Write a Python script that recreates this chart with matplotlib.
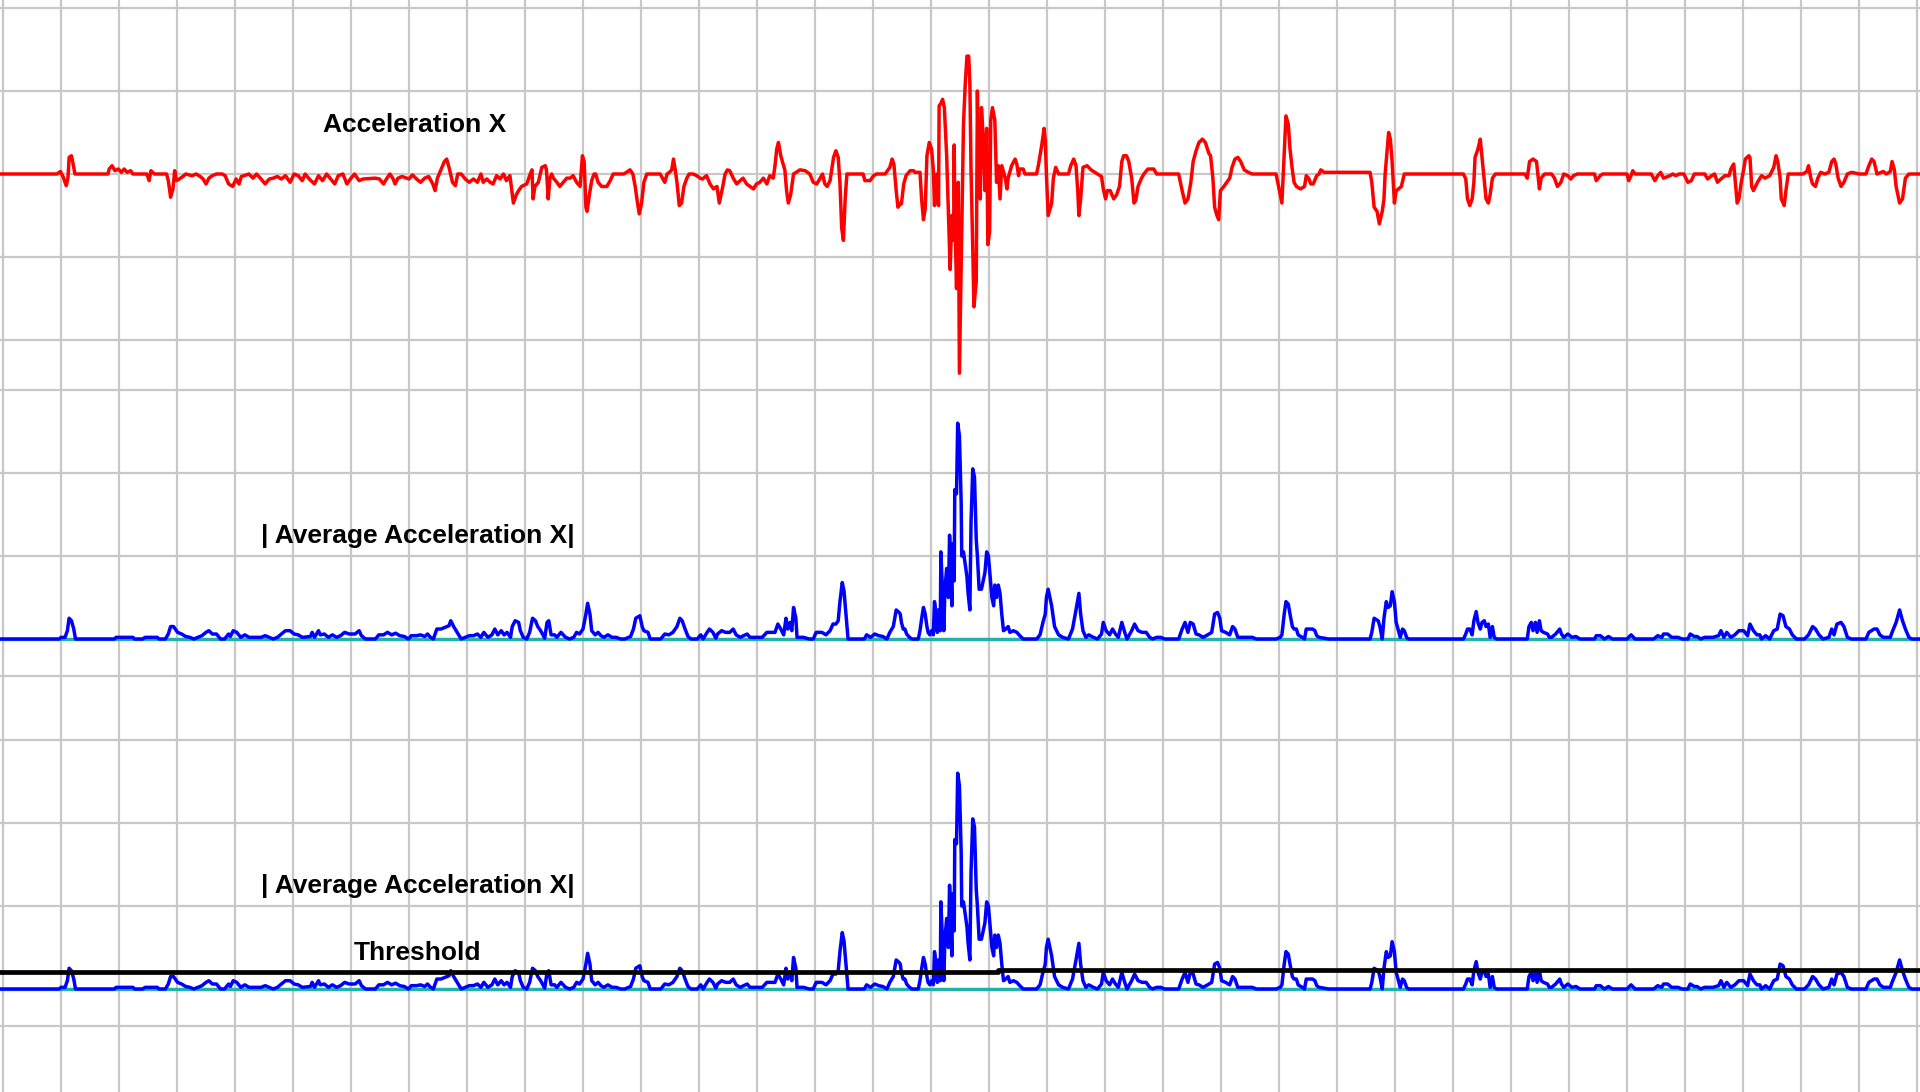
import numpy as np
import matplotlib
matplotlib.use('Agg')
import matplotlib.pyplot as plt

# Raw acceleration X, (time, value); grid step = 1 unit on both axes
acc_x_samples = [
    (-0.06, 0), (0.93, 0), (0.99, 0.03), (1.04, -0.04), (1.09, -0.14), (1.12, -0.05), (1.14, 0.2), (1.18, 0.22), (1.22, 0.08), (1.24, 0),
    (1.81, 0), (1.83, 0.06), (1.88, 0.1), (1.93, 0.04), (1.99, 0.06), (2.04, 0.02), (2.09, 0.06), (2.14, 0.02), (2.20, 0.04), (2.24, 0),
    (2.48, 0), (2.52, -0.08), (2.55, 0.04), (2.61, 0), (2.82, 0), (2.85, -0.08), (2.89, -0.28), (2.93, -0.18), (2.96, 0.04), (2.99, -0.08),
    (3.04, -0.06), (3.10, -0.03), (3.15, 0), (3.26, -0.02), (3.33, 0), (3.40, -0.03), (3.45, -0.06), (3.50, -0.12), (3.55, -0.05), (3.61, -0.02),
    (3.68, 0), (3.78, 0), (3.83, -0.02), (3.89, -0.12), (3.96, -0.15), (4.02, -0.06), (4.07, -0.12), (4.11, -0.03), (4.24, 0), (4.31, -0.05),
    (4.37, 0), (4.45, -0.06), (4.52, -0.12), (4.59, -0.06), (4.66, -0.05), (4.73, -0.03), (4.80, -0.06), (4.87, -0.02), (4.95, -0.1), (5.02, 0),
    (5.09, -0.02), (5.16, -0.08), (5.21, 0), (5.28, -0.06), (5.37, -0.12), (5.44, -0.02), (5.51, -0.08), (5.58, 0), (5.65, -0.06), (5.72, -0.12),
    (5.78, -0.02), (5.86, 0), (5.93, -0.12), (6.00, -0.05), (6.06, 0), (6.14, -0.08), (6.21, -0.06), (6.42, -0.05), (6.49, -0.06), (6.56, -0.12),
    (6.62, -0.05), (6.67, 0), (6.72, -0.05), (6.76, -0.12), (6.81, -0.05), (6.88, -0.03), (7.00, -0.06), (7.06, -0.01), (7.13, -0.06), (7.20, -0.1),
    (7.27, -0.05), (7.34, -0.03), (7.41, -0.12), (7.45, -0.2), (7.49, -0.05), (7.55, 0.05), (7.61, 0.15), (7.65, 0.18), (7.69, 0.08), (7.75, -0.1),
    (7.80, -0.14), (7.84, 0), (7.90, 0), (7.97, -0.06), (8.04, -0.1), (8.11, -0.06), (8.18, -0.1), (8.24, 0),
    (8.28, -0.1), (8.34, -0.06), (8.40, -0.1), (8.45, -0.12), (8.51, -0.02), (8.57, -0.06), (8.63, 0), (8.68, -0.08), (8.74, -0.02), (8.80, -0.35),
    (8.85, -0.25), (8.89, -0.2), (8.94, -0.15), (9.03, -0.12), (9.09, 0), (9.12, 0.05), (9.14, -0.3), (9.17, -0.15), (9.23, -0.1), (9.29, 0.08),
    (9.35, 0.1), (9.37, 0.05), (9.40, -0.3), (9.43, -0.05), (9.46, 0), (9.49, -0.05), (9.55, -0.1), (9.60, -0.15), (9.66, -0.1), (9.72, -0.05),
    (9.78, -0.05), (9.83, -0.02), (9.89, -0.1), (9.95, -0.15), (9.99, 0.22), (10.02, 0.15), (10.05, -0.4), (10.07, -0.45), (10.11, -0.25), (10.15, -0.08),
    (10.19, 0), (10.22, 0), (10.26, -0.1), (10.32, -0.15), (10.41, -0.15), (10.47, -0.08), (10.52, 0), (10.70, 0), (10.75, 0.02), (10.81, 0.05),
    (10.86, 0), (10.90, -0.15), (10.94, -0.35), (10.97, -0.48), (11.01, -0.35), (11.05, -0.1), (11.10, 0), (11.33, 0), (11.37, -0.05), (11.41, -0.1),
    (11.45, 0), (11.49, 0.02), (11.53, 0.05), (11.56, 0.18), (11.59, 0.05), (11.62, -0.1), (11.66, -0.38), (11.70, -0.35), (11.74, -0.15), (11.79, -0.05),
    (11.83, 0), (11.90, 0), (11.96, -0.02), (12.02, -0.05), (12.06, -0.06), (12.13, -0.02), (12.19, -0.12), (12.25, -0.18), (12.31, -0.15), (12.35, -0.35),
    (12.41, -0.15), (12.45, 0), (12.49, 0.05), (12.53, 0.04), (12.59, -0.05), (12.65, -0.12), (12.71, -0.08), (12.76, -0.05), (12.82, -0.12), (12.88, -0.15),
    (12.94, -0.18), (12.99, -0.12), (13.05, -0.1), (13.11, -0.05), (13.17, -0.12), (13.22, -0.02), (13.28, -0.05), (13.31, 0.1), (13.34, 0.3), (13.37, 0.38),
    (13.41, 0.22), (13.45, 0.12), (13.48, 0.05), (13.51, -0.2), (13.54, -0.35), (13.58, -0.25), (13.63, 0), (13.74, 0.05), (13.83, 0.04), (13.91, 0),
    (13.97, -0.1), (14.03, -0.12), (14.09, -0.05), (14.13, 0), (14.17, -0.12), (14.21, -0.15), (14.26, -0.08), (14.32, 0.2), (14.36, 0.28), (14.40, 0.2),
    (14.43, -0.1), (14.46, -0.65), (14.49, -0.8), (14.52, -0.3), (14.55, 0), (14.83, 0), (14.86, -0.08), (14.95, -0.08), (15.01, -0.02), (15.06, 0),
    (15.21, 0), (15.29, 0.08), (15.33, 0.18), (15.36, 0.12), (15.40, -0.2), (15.43, -0.4), (15.47, -0.36), (15.49, -0.36), (15.51, -0.24), (15.53, -0.12),
    (15.57, -0.02), (15.64, 0.04), (15.70, 0.04), (15.72, 0.02), (15.81, 0.02), (15.84, -0.32), (15.87, -0.55), (15.90, -0.42), (15.93, 0.22), (15.97, 0.38),
    (16.01, 0.3), (16.04, 0.05), (16.06, -0.38), (16.10, 0), (16.13, -0.38), (16.14, 0.82), (16.17, 0.85), (16.20, 0.9), (16.23, 0.8), (16.27, 0.22),
    (16.30, -0.45), (16.33, -1.15), (16.36, -0.5), (16.39, -0.8), (16.40, 0.35), (16.41, -0.45), (16.44, -1.38), (16.47, -0.1), (16.49, -2.4), (16.51, -1.55),
    (16.53, -0.7), (16.56, 0.6), (16.59, 1.08), (16.62, 1.42), (16.65, 1.42), (16.67, 1.1), (16.69, 0.05), (16.72, -0.9), (16.74, -1.6), (16.78, -1.3),
    (16.80, 1.0), (16.82, 0), (16.85, -0.3), (16.87, 0.8), (16.90, 0.45), (16.93, -0.2), (16.96, 0.55), (16.98, -0.85), (17.01, -0.7), (17.03, 0.65),
    (17.06, 0.8), (17.10, 0.65), (17.13, -0.1), (17.16, 0.1), (17.19, -0.3), (17.22, 0.1), (17.28, -0.05), (17.31, -0.18), (17.33, -0.05), (17.39, 0.1),
    (17.45, 0.18), (17.48, 0.12), (17.51, -0.02), (17.53, 0.06), (17.59, 0.06), (17.62, 0), (17.82, 0), (17.85, 0.1), (17.91, 0.35), (17.95, 0.55),
    (17.97, 0.4), (17.99, 0), (18.02, -0.5), (18.08, -0.35), (18.11, -0.05), (18.15, 0.08), (18.20, 0), (18.37, 0), (18.41, 0.1), (18.46, 0.18),
    (18.50, 0.1), (18.53, -0.2), (18.55, -0.5), (18.58, -0.3), (18.62, 0.08), (18.69, 0.1), (18.76, 0.05), (18.87, 0), (18.94, -0.03), (18.97, -0.18),
    (19.01, -0.3), (19.04, -0.2), (19.09, -0.2), (19.15, -0.3), (19.20, -0.25), (19.25, -0.15), (19.29, 0.15), (19.32, 0.22), (19.37, 0.22), (19.41, 0.15),
    (19.46, -0.05), (19.50, -0.35), (19.53, -0.32), (19.57, -0.15), (19.63, -0.05), (19.67, 0), (19.74, 0.06), (19.84, 0.06), (19.89, 0), (20.27, 0),
    (20.33, -0.2), (20.38, -0.35), (20.43, -0.3), (20.48, -0.1), (20.52, 0.15), (20.57, 0.28), (20.62, 0.38), (20.68, 0.42), (20.73, 0.38), (20.79, 0.25),
    (20.82, 0.22), (20.86, -0.05), (20.89, -0.4), (20.93, -0.5), (20.96, -0.55), (20.99, -0.2), (21.05, -0.15), (21.10, -0.1), (21.15, -0.05), (21.19, 0.08),
    (21.24, 0.18), (21.29, 0.2), (21.34, 0.15), (21.40, 0.05), (21.47, 0.02), (21.54, 0), (21.95, 0), (22.05, -0.35), (22.09, 0.25), (22.12, 0.7),
    (22.16, 0.6), (22.19, 0.3), (22.23, 0.05), (22.26, -0.1), (22.30, -0.15), (22.37, -0.18), (22.44, -0.15), (22.47, -0.02), (22.51, -0.05), (22.55, -0.12),
    (22.59, -0.12), (22.65, -0.02), (22.69, 0), (22.72, 0.05), (22.78, 0.02), (23.57, 0.02), (23.60, -0.1), (23.64, -0.4), (23.69, -0.45), (23.73, -0.6),
    (23.78, -0.45), (23.81, -0.3), (23.83, 0), (23.86, 0.25), (23.89, 0.5), (23.92, 0.42), (23.95, 0.15), (23.99, -0.35), (24.02, -0.2), (24.06, -0.18),
    (24.11, -0.15), (24.16, 0), (25.18, 0), (25.22, -0.06), (25.25, -0.3), (25.29, -0.38), (25.33, -0.3), (25.36, -0.1), (25.38, 0.2), (25.43, 0.3),
    (25.47, 0.42), (25.50, 0.2), (25.54, -0.1), (25.57, -0.3), (25.61, -0.35), (25.64, -0.25), (25.68, -0.05), (25.73, 0), (26.24, 0), (26.28, -0.05),
    (26.32, 0.15), (26.38, 0.18), (26.44, 0.15), (26.47, -0.05), (26.49, -0.18), (26.52, -0.05), (26.58, 0), (26.70, 0), (26.75, -0.05), (26.80, -0.15),
    (26.86, -0.1), (26.91, 0), (26.98, -0.02), (27.03, -0.06), (27.08, -0.02), (27.14, 0), (27.44, 0), (27.47, -0.08), (27.54, -0.02), (27.58, 0),
    (28.00, 0), (28.03, -0.08), (28.07, -0.02), (28.10, 0.04), (28.14, 0), (28.42, 0), (28.48, -0.08), (28.53, -0.02), (28.58, 0.02), (28.63, -0.05),
    (28.74, -0.02), (28.79, 0), (28.84, -0.02), (28.90, 0), (28.98, 0), (29.05, -0.1), (29.11, -0.08), (29.16, 0), (29.34, 0), (29.39, -0.06),
    (29.46, -0.02), (29.51, 0), (29.56, -0.1), (29.62, -0.06), (29.69, -0.02), (29.76, -0.02), (29.79, 0.06), (29.84, 0.12), (29.88, -0.2), (29.90, -0.35),
    (29.93, -0.3), (29.97, -0.1), (30.01, 0.05), (30.04, 0.18), (30.10, 0.22), (30.12, 0.2), (30.15, -0.15), (30.18, -0.2), (30.25, -0.1), (30.32, -0.02),
    (30.38, -0.05), (30.46, -0.02), (30.53, 0.08), (30.57, 0.22), (30.60, 0.15), (30.64, -0.05), (30.66, -0.3), (30.71, -0.38), (30.74, -0.2), (30.78, 0),
    (31.03, 0), (31.10, 0.03), (31.13, 0.1), (31.17, -0.05), (31.20, -0.12), (31.25, -0.15), (31.29, -0.05), (31.34, 0.02), (31.41, 0), (31.48, 0.02),
    (31.53, 0.15), (31.57, 0.18), (31.60, 0.12), (31.64, -0.05), (31.69, -0.15), (31.74, -0.1), (31.80, 0), (31.87, 0.02), (32.01, 0), (32.12, 0),
    (32.17, 0.1), (32.22, 0.18), (32.26, 0.15), (32.31, 0), (32.42, 0.03), (32.47, 0), (32.54, 0.03), (32.57, 0.15), (32.61, 0.05), (32.64, -0.15),
    (32.70, -0.35), (32.75, -0.3), (32.80, -0.05), (32.86, 0), (33.10, 0),
]

# |average acceleration X|, same time base
avg_x_samples = [
    (-0.06, 0), (0.97, 0), (1.00, 0.02), (1.07, 0.02), (1.11, 0.1), (1.14, 0.25), (1.18, 0.22), (1.22, 0.12), (1.25, 0), (1.92, 0),
    (1.95, 0.02), (2.24, 0.02), (2.27, 0), (2.41, 0), (2.45, 0.02), (2.66, 0.02), (2.69, 0), (2.80, 0), (2.85, 0.06), (2.89, 0.15),
    (2.94, 0.15), (3.01, 0.08), (3.08, 0.06), (3.15, 0.03), (3.22, 0.02), (3.29, 0), (3.36, 0.02), (3.43, 0.04), (3.50, 0.08), (3.55, 0.1),
    (3.61, 0.06), (3.68, 0.06), (3.75, 0), (3.82, 0), (3.89, 0.06), (3.92, 0.03), (3.97, 0.1), (4.03, 0.08), (4.10, 0.02), (4.17, 0.05),
    (4.24, 0.02), (4.45, 0.02), (4.52, 0.04), (4.59, 0.02), (4.66, 0), (4.73, 0.02), (4.80, 0.06), (4.87, 0.1), (4.95, 0.1), (5.02, 0.06),
    (5.09, 0.05), (5.16, 0.02), (5.30, 0.03), (5.33, 0.08), (5.37, 0.02), (5.44, 0.1), (5.47, 0.05), (5.54, 0.06), (5.61, 0.02), (5.68, 0.05),
    (5.75, 0.02), (5.82, 0.04), (5.89, 0.08), (5.97, 0.06), (6.07, 0.06), (6.14, 0.1), (6.18, 0.04), (6.25, 0), (6.42, 0), (6.48, 0.05),
    (6.56, 0.05), (6.63, 0.08), (6.70, 0.05), (6.77, 0.07), (6.84, 0.04), (6.92, 0.03), (6.99, 0), (7.04, 0.04), (7.13, 0.04), (7.20, 0.05),
    (7.27, 0.03), (7.32, 0.06), (7.37, 0.02), (7.42, 0), (7.48, 0.12), (7.55, 0.12), (7.62, 0.14), (7.69, 0.16), (7.72, 0.22), (7.77, 0.15),
    (7.83, 0.08), (7.90, 0), (7.97, 0.02), (8.04, 0.04), (8.11, 0.04), (8.18, 0.06), (8.24, 0.02), (8.29, 0.08), (8.36, 0.02), (8.43, 0.05),
    (8.48, 0.12), (8.53, 0.05), (8.59, 0.1), (8.64, 0.05), (8.69, 0.08), (8.75, 0.02), (8.78, 0.15), (8.83, 0.22), (8.89, 0.2), (8.92, 0.1),
    (8.97, 0.02), (9.03, 0), (9.08, 0.08), (9.13, 0.25), (9.18, 0.22), (9.22, 0.15), (9.27, 0.1), (9.34, 0.01), (9.38, 0.2), (9.41, 0.22),
    (9.45, 0.05), (9.51, 0.05), (9.55, 0.02), (9.62, 0.08), (9.70, 0.02), (9.77, 0), (9.84, 0.02), (9.89, 0.08), (9.94, 0.06), (10.00, 0.12),
    (10.05, 0.3), (10.08, 0.43), (10.12, 0.3), (10.15, 0.1), (10.21, 0.05), (10.26, 0.08), (10.31, 0.04), (10.36, 0.02), (10.43, 0.05), (10.50, 0.02),
    (10.57, 0.02), (10.65, 0), (10.72, 0), (10.82, 0.03), (10.87, 0.12), (10.91, 0.25), (10.98, 0.28), (11.02, 0.15), (11.05, 0.1), (11.12, 0.08),
    (11.16, 0), (11.34, 0), (11.41, 0.06), (11.48, 0.05), (11.55, 0.08), (11.62, 0.15), (11.67, 0.25), (11.71, 0.22), (11.76, 0.12), (11.81, 0.03),
    (11.86, 0), (11.97, 0), (12.03, 0.05), (12.07, 0), (12.14, 0.08), (12.18, 0.12), (12.24, 0.08), (12.29, 0.01), (12.32, 0.06), (12.39, 0.1),
    (12.46, 0.08), (12.53, 0.08), (12.59, 0.12), (12.64, 0.05), (12.71, 0.02), (12.83, 0.06), (12.88, 0.02), (13.09, 0.02), (13.17, 0.08), (13.31, 0.08),
    (13.36, 0.18), (13.41, 0.12), (13.46, 0.05), (13.50, 0.25), (13.53, 0.12), (13.57, 0.2), (13.60, 0.1), (13.63, 0.38), (13.67, 0.25), (13.69, 0.02),
    (13.80, 0.02), (13.90, 0), (13.97, 0), (14.02, 0.08), (14.12, 0.08), (14.19, 0.05), (14.26, 0.1), (14.31, 0.18), (14.36, 0.18), (14.40, 0.22),
    (14.43, 0.45), (14.47, 0.68), (14.50, 0.58), (14.54, 0.25), (14.57, 0), (14.85, 0), (14.89, 0.05), (14.96, 0.02), (15.03, 0.06), (15.10, 0.04),
    (15.17, 0.03), (15.24, 0), (15.29, 0.08), (15.35, 0.15), (15.40, 0.35), (15.45, 0.32), (15.47, 0.3), (15.49, 0.2), (15.52, 0.12), (15.55, 0.12),
    (15.58, 0.06), (15.63, 0.02), (15.67, 0), (15.78, 0), (15.81, 0.1), (15.84, 0.25), (15.87, 0.38), (15.90, 0.3), (15.93, 0.15), (15.95, 0.08),
    (15.98, 0.05), (16.01, 0.1), (16.04, 0.05), (16.06, 0.45), (16.09, 0.3), (16.11, 0.08), (16.13, 0.35), (16.16, 0.1), (16.17, 1.05), (16.20, 0.55),
    (16.22, 0.1), (16.24, 0.6), (16.27, 0.85), (16.30, 0.5), (16.32, 1.25), (16.34, 0.9), (16.36, 0.4), (16.37, 1.15), (16.40, 0.7), (16.41, 1.8),
    (16.44, 1.75), (16.46, 2.6), (16.49, 2.45), (16.52, 1.65), (16.53, 1.0), (16.56, 1.05), (16.59, 0.9), (16.62, 0.75), (16.64, 0.55), (16.67, 0.35),
    (16.69, 1.4), (16.72, 2.05), (16.75, 1.95), (16.78, 1.2), (16.80, 1.0), (16.83, 0.6), (16.87, 0.6), (16.90, 0.7), (16.93, 0.8), (16.96, 1.05),
    (16.99, 1.0), (17.02, 0.75), (17.05, 0.5), (17.08, 0.4), (17.10, 0.65), (17.13, 0.5), (17.16, 0.65), (17.19, 0.55), (17.22, 0.3), (17.25, 0.1),
    (17.29, 0.12), (17.33, 0.15), (17.36, 0.08), (17.42, 0.1), (17.48, 0.08), (17.53, 0.04), (17.59, 0), (17.82, 0), (17.88, 0.05), (17.93, 0.2),
    (17.97, 0.3), (17.99, 0.5), (18.02, 0.6), (18.08, 0.4), (18.13, 0.15), (18.20, 0.05), (18.27, 0.02), (18.37, 0), (18.44, 0.12), (18.50, 0.35),
    (18.55, 0.55), (18.58, 0.3), (18.62, 0.1), (18.67, 0.02), (18.72, 0.05), (18.80, 0.02), (18.87, 0), (18.94, 0.06), (18.97, 0.2), (19.02, 0.1),
    (19.08, 0.05), (19.13, 0.12), (19.18, 0.06), (19.23, 0.02), (19.29, 0.2), (19.34, 0.08), (19.38, 0), (19.46, 0.1), (19.51, 0.18), (19.57, 0.1),
    (19.64, 0.08), (19.71, 0.08), (19.77, 0.02), (19.82, 0), (19.89, 0.02), (19.96, 0.02), (20.03, 0), (20.27, 0), (20.33, 0.12), (20.38, 0.2),
    (20.43, 0.08), (20.47, 0.2), (20.52, 0.18), (20.57, 0.06), (20.62, 0.05), (20.69, 0.02), (20.77, 0.05), (20.84, 0.08), (20.89, 0.3), (20.94, 0.32),
    (20.98, 0.25), (21.01, 0.1), (21.08, 0.08), (21.15, 0.05), (21.20, 0.15), (21.24, 0.12), (21.29, 0.02), (21.54, 0.02), (21.61, 0), (21.95, 0),
    (22.02, 0.02), (22.05, 0.05), (22.09, 0.3), (22.12, 0.45), (22.16, 0.42), (22.19, 0.3), (22.23, 0.15), (22.26, 0.12), (22.30, 0.12), (22.33, 0.05),
    (22.40, 0.02), (22.44, 0), (22.47, 0.12), (22.58, 0.12), (22.62, 0.1), (22.65, 0.04), (22.69, 0.02), (22.86, 0), (23.57, 0), (23.60, 0.08),
    (23.64, 0.25), (23.71, 0.22), (23.74, 0.15), (23.78, 0), (23.81, 0.25), (23.85, 0.45), (23.88, 0.38), (23.92, 0.4), (23.95, 0.57), (23.99, 0.45),
    (24.02, 0.2), (24.06, 0.1), (24.09, 0.02), (24.13, 0.12), (24.16, 0.1), (24.20, 0.02), (24.23, 0), (25.18, 0), (25.22, 0.06), (25.25, 0.12),
    (25.29, 0.12), (25.33, 0.05), (25.36, 0.22), (25.40, 0.33), (25.43, 0.2), (25.47, 0.12), (25.50, 0.2), (25.54, 0.22), (25.57, 0.15), (25.61, 0.18),
    (25.64, 0.02), (25.68, 0.15), (25.71, 0.02), (25.75, 0), (26.28, 0), (26.31, 0.15), (26.35, 0.2), (26.38, 0.1), (26.42, 0.2), (26.45, 0.08),
    (26.49, 0.22), (26.52, 0.1), (26.56, 0.08), (26.63, 0.06), (26.66, 0.02), (26.70, 0.02), (26.77, 0.06), (26.84, 0.12), (26.87, 0.06), (26.91, 0.02),
    (26.98, 0.06), (27.05, 0.02), (27.12, 0.03), (27.19, 0), (27.44, 0), (27.47, 0.04), (27.54, 0.04), (27.61, 0), (27.68, 0.03), (27.75, 0),
    (28.00, 0), (28.07, 0.05), (28.14, 0), (28.46, 0), (28.53, 0.04), (28.60, 0.02), (28.63, 0.06), (28.70, 0.06), (28.77, 0.02), (28.88, 0.02),
    (28.95, 0), (29.05, 0), (29.09, 0.06), (29.16, 0.03), (29.21, 0.03), (29.27, 0), (29.34, 0.02), (29.48, 0.02), (29.58, 0.04), (29.62, 0.1),
    (29.67, 0.02), (29.72, 0.08), (29.79, 0.02), (29.86, 0.05), (29.93, 0.1), (30.01, 0.1), (30.08, 0.04), (30.12, 0.18), (30.18, 0.1), (30.24, 0.05),
    (30.29, 0.05), (30.32, 0), (30.39, 0.04), (30.46, 0), (30.53, 0.1), (30.59, 0.12), (30.64, 0.3), (30.69, 0.28), (30.74, 0.15), (30.80, 0.12),
    (30.85, 0.05), (30.92, 0), (31.06, 0), (31.13, 0.05), (31.20, 0.15), (31.25, 0.12), (31.31, 0.05), (31.38, 0), (31.48, 0.02), (31.53, 0.12),
    (31.57, 0.05), (31.62, 0.18), (31.69, 0.2), (31.74, 0.15), (31.80, 0.02), (31.87, 0), (32.12, 0), (32.17, 0.08), (32.26, 0.12), (32.31, 0.12),
    (32.36, 0.05), (32.42, 0.02), (32.54, 0.02), (32.57, 0.08), (32.64, 0.2), (32.70, 0.35), (32.75, 0.22), (32.80, 0.12), (32.86, 0.02), (32.91, 0),
    (33.10, 0),
]

# threshold: two levels, switching once
threshold_levels = [0.20, 0.23]
threshold_switch = 17.16

labels = ['Acceleration X', '| Average Acceleration X|', '| Average Acceleration X|', 'Threshold']

acc_t, acc_v = np.array(acc_x_samples).T
avg_t, avg_v = np.array(avg_x_samples).T
t_start, t_end = acc_t[0], acc_t[-1]

W, H = 1920, 1092
UNIT = 83.0          # pixels per y grid step
X0, DX = 3, 58       # first vertical grid line and spacing (px)
GRID = '#c8c8c8'
FONT = dict(family=['Liberation Sans', 'DejaVu Sans'], fontsize=19, fontweight='bold', color='black')

fig = plt.figure(figsize=(W / 100, H / 100), dpi=100)
fig.patch.set_facecolor('white')


def make_panel(top, bottom, baseline, yticks):
    ax = fig.add_axes([0, 1 - bottom / H, 1, (bottom - top) / H])
    ax.set_xlim(-X0 / DX, (W - X0) / DX)
    ax.set_ylim(-(bottom - baseline) / UNIT, (baseline - top) / UNIT)
    ax.set_xticks(np.arange(0, 34))
    ax.set_yticks(yticks)
    ax.grid(True, color=GRID, linewidth=1.6)
    ax.set_axisbelow(True)
    ax.tick_params(length=0, labelbottom=False, labelleft=False)
    for s in ax.spines.values():
        s.set_visible(False)
    return ax


ax1 = make_panel(0, 380, 174, [-2, -1, 0, 1, 2])
ax2 = make_panel(380, 690, 639, [-0.45, 0, 1, 2, 3])
ax3 = make_panel(690, 1092, 989, [-0.45, 0, 1, 2, 3])

# raw signal
ax1.plot(acc_t, acc_v, color='#ff0000', linewidth=2.5)
ax1.text(7.09, 0.51, labels[0], ha='center', va='baseline', **FONT)

# averaged magnitude, drawn twice
for ax, lab in [(ax2, labels[1]), (ax3, labels[2])]:
    ax.axhline(0, color='#20b2aa', linewidth=2.4, zorder=2)
    ax.plot(avg_t, avg_v, color='#0000ff', linewidth=2.5, zorder=3)
    ax.text(7.15, 1.16, lab, ha='center', va='baseline', **FONT)

# threshold on the last panel
thr_t = [t_start, threshold_switch, threshold_switch, t_end]
thr_v = [threshold_levels[0], threshold_levels[0], threshold_levels[1], threshold_levels[1]]
ax3.plot(thr_t, thr_v, color='black', linewidth=3.4, zorder=4)
ax3.text(7.15, 0.35, labels[3], ha='center', va='baseline', **FONT)

fig.savefig('out.png', dpi=100, facecolor='white')
